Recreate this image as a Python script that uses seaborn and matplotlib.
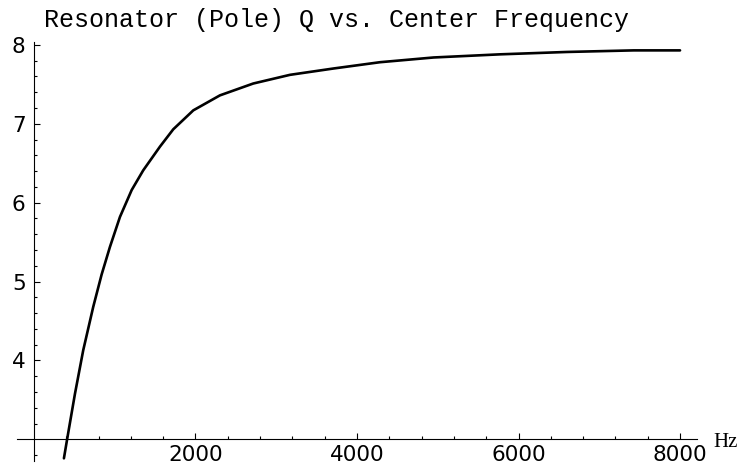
import numpy as np
import pandas as pd
import matplotlib
matplotlib.use("Agg")
import matplotlib.pyplot as plt
import seaborn as sns
from matplotlib.ticker import FixedLocator

# Data
freq_hz = [371, 412, 508, 610, 734, 838, 941, 1065, 1210, 1353, 1560, 1725,
           1973, 2303, 2715, 3170, 3706, 4284, 4948, 5774, 6600, 7426, 8000]
q_values = [2.76, 3.01, 3.58, 4.13, 4.68, 5.09, 5.44, 5.82, 6.16, 6.41, 6.71, 6.93,
            7.17, 7.36, 7.51, 7.62, 7.70, 7.78, 7.84, 7.88, 7.91, 7.93, 7.93]
x_major = [2000, 4000, 6000, 8000]
y_major = [4, 5, 6, 7, 8]
title_text = "Resonator (Pole) Q vs. Center Frequency"
x_unit = "Hz"

sns.set_style("white")
plt.rcParams['font.family'] = ['DejaVu Sans']

df = pd.DataFrame({"freq": freq_hz, "Q": q_values})

fig = plt.figure(figsize=(7.47, 4.68), dpi=100)
ax = fig.add_axes([17/747, (468-460.7)/468, 680/747, 419/468])
ax.set_facecolor("white")

sns.lineplot(data=df, x="freq", y="Q", color="black", linewidth=1.9,
             sort=False, ax=ax, estimator=None)

ax.set_xlim(-210, 8210)
ax.set_ylim(2.73, 8.04)
ax.set_xlabel("")
ax.set_ylabel("")

for s in ["top", "right"]:
    ax.spines[s].set_visible(False)
ax.spines["left"].set_position(("data", 0))
ax.spines["bottom"].set_position(("data", 3))
for s in ["left", "bottom"]:
    ax.spines[s].set_color("black")
    ax.spines[s].set_linewidth(0.8)

ax.xaxis.set_major_locator(FixedLocator(x_major))
ax.xaxis.set_minor_locator(FixedLocator([v for v in np.arange(400, 8001, 400) if v % 2000]))
ax.yaxis.set_major_locator(FixedLocator(y_major))
ax.yaxis.set_minor_locator(FixedLocator([round(v, 1) for v in np.arange(2.8, 8.01, 0.2)
                                         if abs(v - round(v)) > 1e-6]))
ax.set_xticklabels([str(v) for v in x_major])
ax.set_yticklabels([str(v) for v in y_major])

ax.tick_params(axis="both", which="both", direction="in", color="black",
               bottom=True, left=True, top=False, right=False,
               labelsize=15.5, labelcolor="black", width=0.8)
ax.tick_params(axis="both", which="major", length=4.3)
ax.tick_params(axis="both", which="minor", length=2.0)
ax.tick_params(axis="x", which="major", pad=4)
ax.tick_params(axis="y", which="major", pad=6)

fig.text(336/747, 1 - 27/468, title_text, family="Liberation Mono", fontsize=18,
         ha="center", va="baseline", color="black")
fig.text(713/747, 1 - 447/468, x_unit, family="Liberation Serif", fontsize=15,
         ha="left", va="baseline", color="black")

fig.savefig("out.png", dpi=100, facecolor="white")
